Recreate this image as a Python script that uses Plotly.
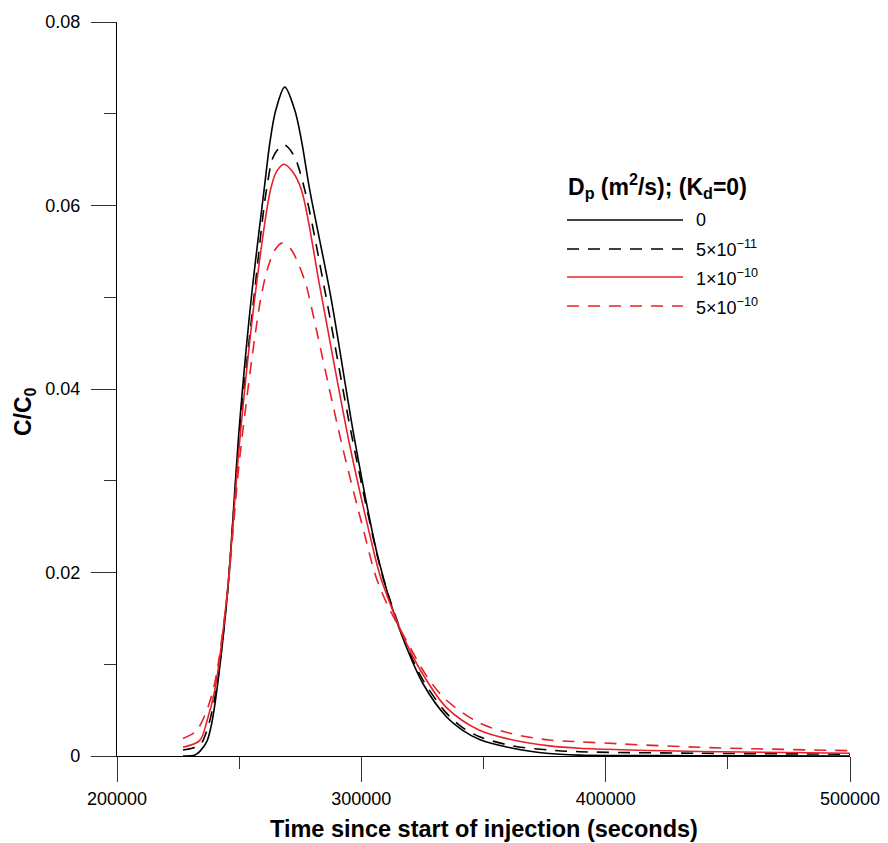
import plotly.graph_objects as go

# ---- data ----
t_dp0 = [227000, 231900, 233900, 236800, 238400, 240050, 244960, 250270, 255000, 260200, 262700,
         265000, 268660, 272750, 275490, 278880, 287400, 297300, 306140, 308840, 311570,
         318400, 325190, 334750, 341500, 348400, 362000, 375600, 389200, 438000, 500000]
c_dp0 = [0.0, 0.0001, 0.0005, 0.0016, 0.0031, 0.0056, 0.017, 0.0366, 0.0500, 0.0617, 0.0671,
         0.0704, 0.0729, 0.0704, 0.0671, 0.0617, 0.0502, 0.0344, 0.0224, 0.0196, 0.0170,
         0.0119, 0.0079, 0.0043, 0.0028, 0.0018, 0.00084, 0.0003, 0.0001, 0.00003, 0.0]

t_dp5e11 = [227000, 233900, 236800, 240050, 244960, 250270, 256400, 261180, 264300, 268380,
            272300, 276840, 285020, 296000, 305000, 308500, 312000, 318400, 325190, 334750,
            341500, 348400, 362000, 376970, 389200, 438270, 500000]
c_dp5e11 = [0.00065, 0.0012, 0.0028, 0.0064, 0.0171, 0.0355, 0.0508, 0.0617, 0.0655, 0.0666,
            0.0655, 0.0617, 0.0508, 0.035, 0.0236, 0.0198, 0.0168, 0.0121, 0.0083, 0.0047,
            0.0031, 0.0021, 0.0011, 0.00065, 0.00047, 0.0003, 0.0002]

t_dp1e10 = [227000, 233900, 236800, 240050, 244960, 250270, 256800, 262810, 265300, 268380,
            271800, 275490, 283250, 295000, 304000, 307500, 311500, 318400, 325190, 334750,
            348360, 362000, 376970, 389200, 438270, 500000]
c_dp1e10 = [0.00095, 0.0017, 0.0038, 0.0072, 0.0174, 0.0345, 0.0508, 0.0617, 0.0637, 0.0645,
            0.0637, 0.0617, 0.0508, 0.0342, 0.0235, 0.0198, 0.0168, 0.0123, 0.0089, 0.0053,
            0.0028, 0.00174, 0.0011, 0.00084, 0.00049, 0.0003]

t_dp5e10 = [227000, 231900, 233900, 236800, 240050, 244960, 250270, 258730, 261840, 264500,
            267560, 271000, 274790, 277530, 279160, 292000, 301000, 306140, 311000, 318400,
            327000, 334750, 348360, 362000, 376970, 389200, 438270, 500000]
c_dp5e10 = [0.0019, 0.0026, 0.0033, 0.005, 0.008, 0.0172, 0.0326, 0.0497, 0.0533, 0.0551,
            0.0559, 0.0553, 0.0533, 0.0512, 0.0494, 0.034, 0.0245, 0.0194, 0.0163, 0.0126,
            0.0086, 0.0061, 0.0036, 0.0024, 0.00174, 0.00155, 0.00095, 0.00058]

series_labels = ["0", "5×10<sup>−11</sup>", "1×10<sup>−10</sup>", "5×10<sup>−10</sup>"]
legend_title = "<b>D<sub>p</sub> (m<sup>2</sup>/s); (K<sub>d</sub>=0)</b>"
x_title = "<b>Time since start of injection (seconds)</b>"
y_title = "<b>C/C<sub>0</sub></b>"

x_ticks = [200000, 300000, 400000, 500000]
y_ticks = [0, 0.02, 0.04, 0.06, 0.08]
y_tick_text = ["0", "0.02", "0.04", "0.06", "0.08"]

RED = "#e8202a"
FONT = "Liberation Sans, Arial, sans-serif"
DASH = "12px,9px"

styles = [
    dict(color="black", dash="solid"),
    dict(color="black", dash=DASH),
    dict(color=RED, dash="solid"),
    dict(color=RED, dash=DASH),
]
data = [(t_dp0, c_dp0), (t_dp5e11, c_dp5e11), (t_dp1e10, c_dp1e10), (t_dp5e10, c_dp5e10)]

fig = go.Figure()
for (t, c), st, lab in zip(data, styles, series_labels):
    fig.add_trace(go.Scatter(x=t, y=c, mode="lines", name=lab, showlegend=False,
                             line=dict(color=st["color"], dash=st["dash"], width=1.6,
                                       shape="spline", smoothing=0.9)))

# page-pixel helpers for the hand-drawn legend and titles
L, R, T, B, W, H = 117, 38, 22, 87, 888, 843
pw, ph = W - L - R, H - T - B
def px(x):
    return (x - L) / pw
def py(y):
    return (H - B - y) / ph

shapes = []
annotations = [
    dict(text=legend_title, xref="paper", yref="paper", x=px(566), y=py(186),
         xanchor="left", yanchor="middle", showarrow=False,
         font=dict(family=FONT, size=23, color="black")),
    dict(text=x_title, xref="paper", yref="paper", x=px(484), y=py(843),
         xanchor="center", yanchor="bottom", showarrow=False, borderpad=0,
         font=dict(family=FONT, size=23.5, color="black")),
    dict(text=y_title, xref="paper", yref="paper", x=px(24), y=py(412),
         xanchor="center", yanchor="middle", showarrow=False, textangle=-90,
         font=dict(family=FONT, size=23, color="black")),
]
rows = [220, 249, 277, 306]
for st, lab, ry in zip(styles, series_labels, rows):
    shapes.append(dict(type="line", xref="paper", yref="paper", x0=px(567), x1=px(683),
                       y0=py(ry), y1=py(ry),
                       line=dict(color=st["color"], dash=st["dash"], width=1.6)))
    annotations.append(dict(text=lab, xref="paper", yref="paper", x=px(694), y=py(ry),
                            xanchor="left", yanchor="middle", showarrow=False,
                            font=dict(family=FONT, size=18, color="black")))

fig.update_layout(
    width=W, height=H,
    margin=dict(l=L, r=R, t=T, b=B, autoexpand=False),
    paper_bgcolor="white", plot_bgcolor="white",
    font=dict(family=FONT, size=18, color="black"),
    shapes=shapes, annotations=annotations,
    showlegend=False,
)
fig.update_xaxes(
    range=[200000, 500000], tickvals=x_ticks, ticktext=[str(v) for v in x_ticks],
    showgrid=False, zeroline=False, showline=True, linecolor="black", linewidth=1.2,
    ticks="outside", ticklen=25, tickwidth=1, tickcolor="#333", ticklabelstandoff=1,
    minor=dict(ticks="outside", ticklen=12, dtick=50000, tick0=200000, tickcolor="#333", showgrid=False),
    tickfont=dict(family=FONT, size=18), automargin=False,
)
fig.update_yaxes(
    range=[0, 0.08], tickvals=y_ticks, ticktext=y_tick_text,
    showgrid=False, zeroline=False, showline=True, linecolor="black", linewidth=1.2,
    ticks="outside", ticklen=25, tickwidth=1, tickcolor="#333", ticklabelstandoff=7,
    minor=dict(ticks="outside", ticklen=12, dtick=0.01, tick0=0, tickcolor="#333", showgrid=False),
    tickfont=dict(family=FONT, size=18), automargin=False,
)

# remove the browser's default 8px page margin so the figure sits at the window origin
fig.write_html("out.html", config={"displayModeBar": False},
               post_script="document.body.style.margin='0';document.body.style.overflow='hidden';")
